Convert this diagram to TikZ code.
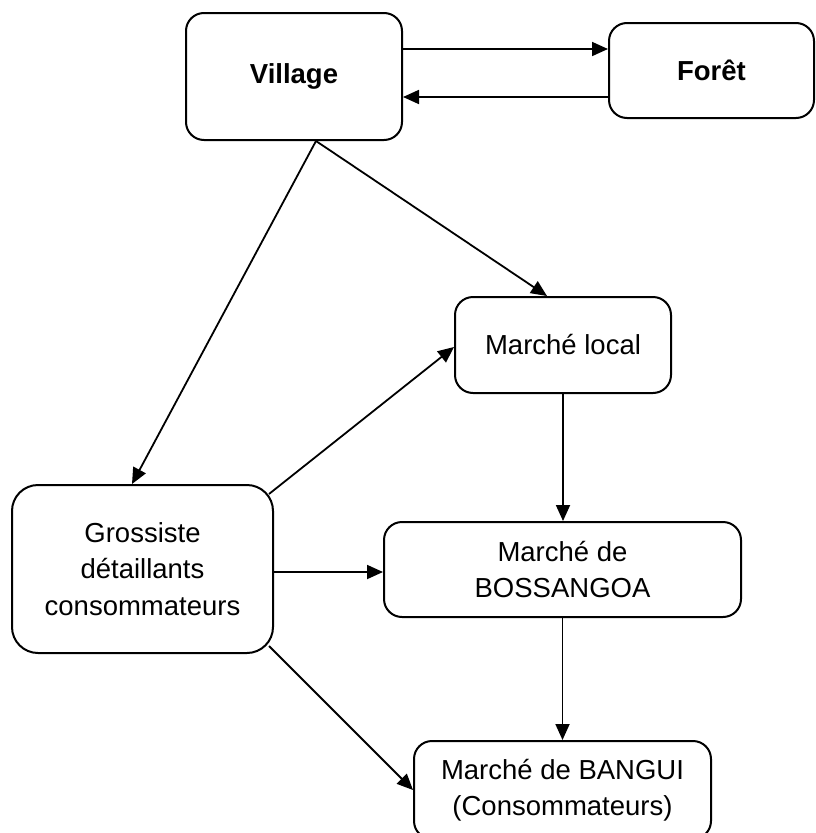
\documentclass[tikz,border=0pt]{standalone}
\usepackage{fontspec}
\setmainfont{Liberation Sans}
\usetikzlibrary{arrows.meta}
\tikzset{
  box/.style={draw, line width=2pt, rounded corners=18pt, align=center,
    font=\fontsize{27.5}{36.5}\selectfont, inner sep=0pt},
  arr/.style={line width=1.8pt, -{Triangle[length=16pt,width=14pt]}}
}
\begin{document}
\begin{tikzpicture}[x=1pt,y=-1pt]
\useasboundingbox (0,0) rectangle (815,833);
\clip (0,0) rectangle (815,833);
\fill[white] (0,0) rectangle (815,833);
\node[box, minimum width=216pt, minimum height=127pt, font=\fontsize{27.5}{36.5}\selectfont\bfseries] (vil) at (294,76.5) {Village};
\node[box, minimum width=205pt, minimum height=95pt, font=\fontsize{27.5}{36.5}\selectfont\bfseries] (for) at (711.5,70.5) {Forêt};
\node[box, minimum width=216pt, minimum height=96pt] (loc) at (563,345) {Marché local};
\node[box, minimum width=261pt, minimum height=168pt, rounded corners=26pt] (gro) at (142.5,569) {Grossiste\\détaillants\\consommateurs};
\node[box, minimum width=357pt, minimum height=95pt] (bos) at (562.5,569.5) {Marché de\\BOSSANGOA};
\node[box, minimum width=297pt, minimum height=98pt] (ban) at (562.5,790) {Marché de BANGUI\\(Consommateurs)};
\draw[arr] ([yshift=27.5pt]vil.east) -- ([yshift=27.5pt]vil.east -| for.west);
\draw[arr] ([yshift=-20.5pt]vil.east -| for.west) -- ([yshift=-20.5pt]vil.east);
\draw[arr] ([xshift=22pt]vil.south) -- ([xshift=-10.5pt]gro.north);
\draw[arr] ([xshift=22pt]vil.south) -- ([xshift=-16pt]loc.north);
\draw[arr] ([shift={(-5pt,-10pt)}]gro.north east) -- ([yshift=-2pt]loc.west);
\draw[arr] (loc.south) -- (loc.south |- bos.north);
\draw[arr] ([yshift=-3pt]gro.east) -- ([yshift=-3pt]gro.east -| bos.west);
\draw[arr] ([shift={(-5pt,8pt)}]gro.south east) -- (ban.west);
\draw[arr] (bos.south) -- (bos.south |- ban.north);
\end{tikzpicture}
\end{document}
